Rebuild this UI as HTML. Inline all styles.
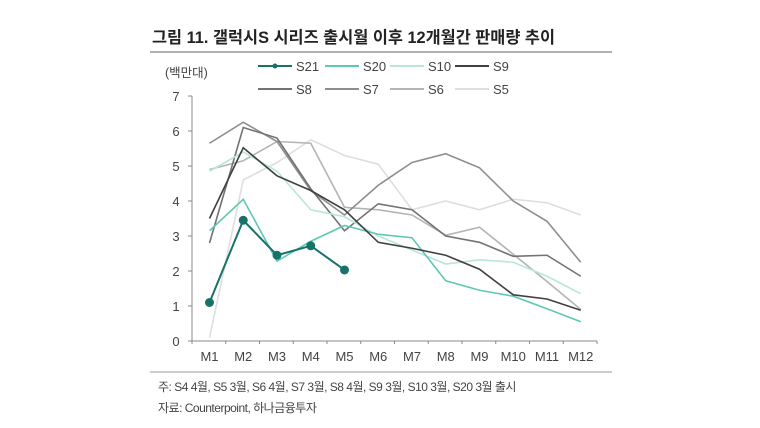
<!DOCTYPE html>
<html><head><meta charset="utf-8"><style>
body{margin:0;background:#fff;width:760px;height:428px;overflow:hidden}
svg{display:block}
text{font-family:"Liberation Sans","Noto Sans CJK KR",sans-serif;fill:#444}
</style></head><body>
<svg id="s" width="760" height="428" xmlns="http://www.w3.org/2000/svg">
<text x="152" y="43" font-size="16.5" font-weight="bold" textLength="403" lengthAdjust="spacingAndGlyphs" style="fill:#222">그림 11. 갤럭시S 시리즈 출시월 이후 12개월간 판매량 추이</text>
<line x1="150" y1="52" x2="612" y2="52" stroke="#999" stroke-width="1.5"/>
<text x="165" y="77" font-size="12.5">(백만대)</text>
<g id="leg" font-size="13"></g>
<g id="ax" font-size="13"></g>
<g id="ln"></g>
<line x1="150" y1="372" x2="612" y2="372" stroke="#999" stroke-width="1"/>
<text x="158" y="391" font-size="12" letter-spacing="-0.5">주: S4 4월, S5 3월, S6 4월, S7 3월, S8 4월, S9 3월, S10 3월, S20 3월 출시</text>
<text x="158" y="412" font-size="12" letter-spacing="-0.5">자료: Counterpoint, 하나금융투자</text>
</svg>
<script>
const NS="http://www.w3.org/2000/svg";
function el(p,t,a,txt){const e=document.createElementNS(NS,t);for(const k in a)e.setAttribute(k,a[k]);if(txt)e.textContent=txt;document.getElementById(p).appendChild(e);return e;}
const X=i=>209.5+i*33.75, Y=v=>341-v*35;
el("ax","line",{x1:192,y1:96,x2:192,y2:341,stroke:"#888"});
el("ax","line",{x1:192,y1:341,x2:597,y2:341,stroke:"#888"});
for(let v=0;v<=7;v++){el("ax","line",{x1:188,y1:Y(v),x2:192,y2:Y(v),stroke:"#888"});el("ax","text",{x:176,y:Y(v)+5,"text-anchor":"middle"},String(v));}
for(let i=0;i<=12;i++){const x=192+i*33.75;el("ax","line",{x1:x,y1:341,x2:x,y2:344,stroke:"#888"});}
for(let i=0;i<12;i++)el("ax","text",{x:X(i),y:361,"text-anchor":"middle"},"M"+(i+1));
const S=[
["S5","#dedede",[0.1,4.6,5.1,5.75,5.3,5.05,3.75,4.0,3.75,4.05,3.95,3.6]],
["S6","#b4b4b4",[4.9,5.15,5.7,5.65,3.82,3.75,3.6,3.02,3.25,2.48,1.7,0.9]],
["S7","#8e8e8e",[5.65,6.25,5.7,4.3,3.6,4.45,5.1,5.35,4.95,4.0,3.42,2.25]],
["S8","#737373",[2.8,6.1,5.8,4.35,3.15,3.92,3.75,3.0,2.82,2.42,2.45,1.85]],
["S10","#b8e6dd",[4.85,5.4,4.85,3.75,3.55,3.0,2.6,2.2,2.32,2.25,1.85,1.35]],
["S20","#5ec8b4",[3.15,4.05,2.28,2.85,3.3,3.05,2.95,1.72,1.45,1.28,0.92,0.55]],
["S9","#404040",[3.5,5.52,4.72,4.3,3.75,2.82,2.65,2.45,2.05,1.32,1.2,0.88]],
["S21","#17726a",[1.1,3.45,2.45,2.72,2.03]]];
for(const [n,c,d] of S){
 el("ln","polyline",{points:d.map((v,i)=>X(i)+","+Y(v)).join(" "),fill:"none",stroke:c,"stroke-width":n=="S21"?2:1.6});
 if(n=="S21")d.forEach((v,i)=>el("ln","circle",{cx:X(i),cy:Y(v),r:4.5,fill:c}));
}
const L=[["S21","#17726a",0,0],["S20","#5ec8b4",1,0],["S10","#b8e6dd",2,0],["S9","#404040",3,0],
["S8","#737373",0,1],["S7","#8e8e8e",1,1],["S6","#b4b4b4",2,1],["S5","#dedede",3,1]];
const lx=[258,325,390,455];
for(const [n,c,col,row] of L){const y=row?89:66;const x=lx[col];
 el("leg","line",{x1:x,y1:y,x2:x+34,y2:y,stroke:c,"stroke-width":2});
 if(n=="S21")el("leg","circle",{cx:x+17,cy:y,r:2.5,fill:c});
 el("leg","text",{x:x+38,y:y+5},n);}
</script>
</body></html>
